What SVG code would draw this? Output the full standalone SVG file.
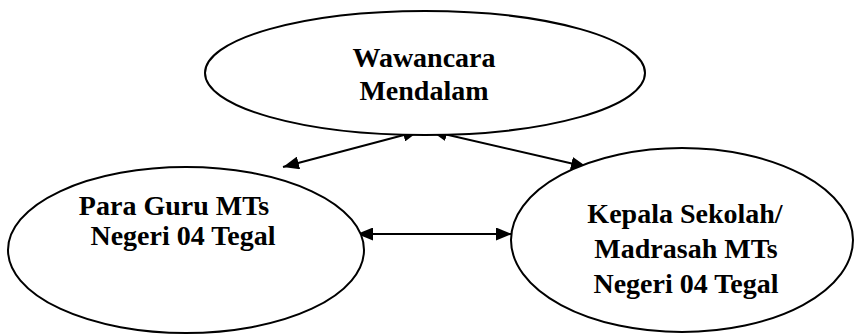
<svg xmlns="http://www.w3.org/2000/svg" width="854" height="334" viewBox="0 0 854 334">
<style>
.node ellipse{fill:#fff;stroke:#000;stroke-width:2}
.node text{font-family:"Liberation Serif","Times New Roman",serif;font-weight:bold;font-size:28px;fill:#000;text-anchor:middle}
.conn line{stroke:#000;stroke-width:2}
</style>
<defs>
<marker id="ah" viewBox="0 0 16 13" refX="16" refY="6.5" markerWidth="16" markerHeight="13" markerUnits="userSpaceOnUse" orient="auto-start-reverse">
<path d="M0,0 L16,6.5 L0,13 Z" fill="#000"/>
</marker>
</defs>
<rect width="854" height="334" fill="#fff"/>
<g id="connectors" class="conn">
<line x1="419" y1="131" x2="283" y2="167" marker-start="url(#ah)" marker-end="url(#ah)"/>
<line x1="431" y1="131" x2="587" y2="167" marker-start="url(#ah)" marker-end="url(#ah)"/>
<line x1="357" y1="234" x2="512" y2="234" marker-start="url(#ah)" marker-end="url(#ah)"/>
</g>
<g id="wawancara" class="node">
<ellipse cx="425" cy="73" rx="220" ry="62"/>
<text x="424" y="67">Wawancara</text>
<text x="424" y="100">Mendalam</text>
</g>
<g id="guru" class="node">
<ellipse cx="186" cy="250" rx="178" ry="83"/>
<text x="174" y="215">Para Guru MTs</text>
<text x="183" y="245">Negeri 04 Tegal</text>
</g>
<g id="kepala" class="node">
<ellipse cx="682" cy="240" rx="171" ry="92"/>
<text x="685" y="223">Kepala Sekolah/</text>
<text x="686" y="258">Madrasah MTs</text>
<text x="686" y="293">Negeri 04 Tegal</text>
</g>
</svg>
